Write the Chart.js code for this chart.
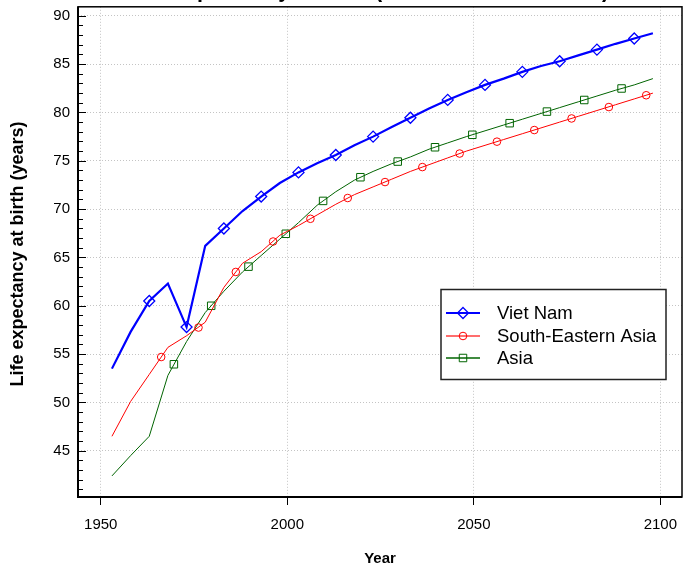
<!DOCTYPE html>
<html>
<head>
<meta charset="utf-8">
<script src="https://cdn.jsdelivr.net/npm/chart.js@4/dist/chart.umd.min.js"></script>
<style>
html,body{margin:0;padding:0;background:#fff;}
#wrap{width:695px;height:568px;position:relative;}
</style>
</head>
<body>
<div id="wrap"><canvas id="c" width="695" height="568"></canvas></div>
<script>
// ---------- data ----------
const years = [1953,1958,1963,1968,1973,1978,1983,1988,1993,1998,2003,2008,2013,2018,2023,2028,2033,2038,2043,2048,2053,2058,2063,2068,2073,2078,2083,2088,2093,2098];
const vietNam = [53.5,57.3,60.5,62.3,57.8,66.2,68.0,69.8,71.3,72.7,73.8,74.75,75.6,76.6,77.5,78.5,79.45,80.4,81.3,82.1,82.85,83.5,84.2,84.8,85.3,85.9,86.5,87.1,87.65,88.2];
const southEasternAsia = [46.5,50.1,52.9,55.7,56.9,58.3,61.9,64.4,65.6,67.3,68.3,69.4,70.5,71.5,72.3,73.1,73.9,74.6,75.3,76.0,76.6,77.2,77.8,78.4,79.0,79.6,80.2,80.8,81.4,82.0];
const asia = [42.4,44.5,46.5,52.8,56.3,59.3,61.5,63.5,65.2,66.9,68.6,70.4,71.8,73.0,73.9,74.7,75.4,76.2,76.85,77.5,78.1,78.7,79.3,79.9,80.5,81.1,81.7,82.3,82.85,83.5];

// marker positions as drawn in the reference
const vnMarkerYears = [1963,1973,1983,1993,2003,2013,2023,2033,2043,2053,2063,2073,2083,2093];
const vnMarkerValues = [60.5,57.8,68.0,71.3,73.8,75.6,77.5,79.45,81.3,82.85,84.2,85.3,86.5,87.65];
const seMarkerYears = [1966.2,1976.2,1986.2,1996.2,2006.2,2016.2,2026.2,2036.2,2046.2,2056.2,2066.2,2076.2,2086.2,2096.2];
const seMarkerValues = [54.7,57.75,63.5,66.65,69.0,71.15,72.8,74.35,75.75,76.98,78.18,79.38,80.56,81.78];
const asiaMarkerYears = [1969.6,1979.6,1989.6,1999.6,2009.6,2019.6,2029.6,2039.6,2049.6,2059.6,2069.6,2079.6,2089.6];
const asiaMarkerValues = [53.95,60.0,64.05,67.45,70.85,73.3,74.92,76.4,77.69,78.89,80.09,81.29,82.48];

const seriesNames = ['Viet Nam','South-Eastern Asia','Asia'];
const xTickValues = [1950,2000,2050,2100];
const yTickValues = [45,50,55,60,65,70,75,80,85,90];
const titleText = 'Life expectancy at birth (both sexes combined)';
const xTitle = 'Year';
const yTitle = 'Life expectancy at birth (years)';

// ---------- styling ----------
const FONT = "'Liberation Sans', Arial, Helvetica, sans-serif";
const BLUE = '#0000ff', RED = '#ff0000', GREEN = '#006400';
Chart.defaults.font.family = FONT;
Chart.defaults.color = '#000';

const pts = (xs, ys) => xs.map((x, i) => ({x: x, y: ys[i]}));

function marker(ctx, style, x, y, r, color, lw) {
  ctx.save();
  ctx.strokeStyle = color; ctx.lineWidth = lw;
  ctx.beginPath();
  if (style === 'rectRot') {
    ctx.moveTo(x, y - r); ctx.lineTo(x + r, y); ctx.lineTo(x, y + r); ctx.lineTo(x - r, y); ctx.closePath();
  } else if (style === 'circle') {
    ctx.arc(x, y, r, 0, Math.PI * 2);
  } else {
    const s = r * Math.SQRT1_2;
    ctx.rect(x - s, y - s, 2 * s, 2 * s);
  }
  ctx.stroke();
  ctx.restore();
}

const deco = {
  id: 'deco',
  afterDraw(chart) {
    const ctx = chart.ctx, a = chart.chartArea, ys = chart.scales.y;
    ctx.save();
    // frame
    ctx.strokeStyle = '#000';
    ctx.lineWidth = 1.5;
    ctx.strokeRect(a.left, a.top, a.right - a.left, a.bottom - a.top);
    ctx.lineWidth = 2;
    ctx.beginPath();
    ctx.moveTo(a.left, a.top); ctx.lineTo(a.left, a.bottom); ctx.lineTo(a.right, a.bottom);
    ctx.stroke();
    // inner y ticks (major + minor)
    ctx.lineWidth = 1;
    for (let v = Math.ceil(ys.min); v <= Math.floor(ys.max); v++) {
      const y = Math.round(ys.getPixelForValue(v)) + 0.5;
      const len = (v % 5 === 0) ? 8 : 5;
      ctx.beginPath(); ctx.moveTo(a.left, y); ctx.lineTo(a.left + len, y); ctx.stroke();
    }
    // y title
    ctx.fillStyle = '#000';
    ctx.font = 'bold 18px ' + FONT;
    ctx.textAlign = 'center'; ctx.textBaseline = 'middle';
    ctx.save();
    ctx.translate(18, 254);
    ctx.rotate(-Math.PI / 2);
    ctx.fillText(yTitle, 0, 0);
    ctx.restore();
    // main title (mostly above the visible page)
    ctx.font = 'bold 21.5px ' + FONT;
    ctx.textBaseline = 'alphabetic';
    ctx.fillText(titleText, 369, -3);
    // legend
    const bx = 441, by = 289.5, bw = 225, bh = 90;
    ctx.fillStyle = '#fff';
    ctx.fillRect(bx, by, bw, bh);
    ctx.strokeStyle = '#222'; ctx.lineWidth = 1.5;
    ctx.strokeRect(bx, by, bw, bh);
    const rows = [
      {name: seriesNames[0], color: BLUE, lw: 2, lineColor: BLUE, style: 'rectRot', r: 5.5, mlw: 1.3, y: 313},
      {name: seriesNames[1], color: RED, lw: 2, lineColor: 'rgba(255,60,60,0.75)', style: 'circle', r: 3.8, mlw: 1, y: 336},
      {name: seriesNames[2], color: GREEN, lw: 1.3, lineColor: GREEN, style: 'rect', r: 5.3, mlw: 1, y: 358}
    ];
    ctx.font = '18.5px ' + FONT;
    ctx.textAlign = 'left'; ctx.textBaseline = 'middle';
    rows.forEach(r => {
      ctx.strokeStyle = r.lineColor; ctx.lineWidth = r.lw;
      ctx.beginPath(); ctx.moveTo(446, r.y); ctx.lineTo(480, r.y); ctx.stroke();
      marker(ctx, r.style, 463, r.y, r.r, r.color, r.mlw);
      ctx.fillStyle = '#000';
      ctx.fillText(r.name, 497, r.y + 1);
    });
    ctx.restore();
  }
};

const markerSet = (label, xs, vs, color, style, r, lw) => ({
  label: label, data: pts(xs, vs), showLine: false,
  borderColor: color, backgroundColor: 'rgba(0,0,0,0)',
  pointStyle: style, pointRadius: r, pointBorderWidth: lw,
  pointBorderColor: color, pointBackgroundColor: 'rgba(0,0,0,0)'
});
const lineSet = (label, vs, color, w) => ({
  label: label, data: pts(years, vs), borderColor: color, borderWidth: w,
  backgroundColor: color, pointRadius: 0, tension: 0, fill: false
});

const noPad = s => { s.paddingTop = 0; s.paddingBottom = 0; s.paddingLeft = 0; s.paddingRight = 0; };

new Chart(document.getElementById('c'), {
  type: 'line',
  data: {
    datasets: [
      markerSet(seriesNames[0] + ' markers', vnMarkerYears, vnMarkerValues, BLUE, 'rectRot', 5.5, 1.3),
      lineSet(seriesNames[0], vietNam, BLUE, 2.2),
      markerSet(seriesNames[1] + ' markers', seMarkerYears, seMarkerValues, RED, 'circle', 3.8, 1),
      lineSet(seriesNames[1], southEasternAsia, RED, 1),
      markerSet(seriesNames[2] + ' markers', asiaMarkerYears, asiaMarkerValues, GREEN, 'rect', 5.3, 1),
      lineSet(seriesNames[2], asia, GREEN, 1)
    ]
  },
  options: {
    responsive: false,
    animation: false,
    devicePixelRatio: 1,
    events: [],
    layout: {padding: {top: 6, right: 13, left: 0, bottom: 0}},
    plugins: {legend: {display: false}, tooltip: {enabled: false}, title: {display: false}},
    scales: {
      x: {
        type: 'linear', min: 1943.9, max: 2105.8,
        afterBuildTicks: s => { s.ticks = xTickValues.map(v => ({value: v})); },
        afterFit: s => { s.height = 71; noPad(s); },
        border: {display: false, dash: [1, 2]},
        grid: {color: '#c4c4c4', lineWidth: 1, drawTicks: true, tickLength: 8,
               tickColor: '#000', tickWidth: 1, tickBorderDash: []},
        ticks: {font: {size: 15}, color: '#000', padding: 11, maxRotation: 0,
                callback: v => String(v)},
        title: {display: true, text: xTitle, font: {size: 15, weight: 'bold'},
                color: '#000', padding: {top: 0, bottom: 0}}
      },
      y: {
        type: 'linear', min: 40.22, max: 90.93,
        afterBuildTicks: s => { s.ticks = yTickValues.map(v => ({value: v})); },
        afterFit: s => { s.width = 78; noPad(s); },
        border: {display: false, dash: [1, 2]},
        grid: {color: '#c4c4c4', lineWidth: 1, drawTicks: false},
        ticks: {font: {size: 15}, color: '#000', padding: 8, callback: v => String(v)}
      }
    }
  },
  plugins: [deco]
});
</script>
</body>
</html>
